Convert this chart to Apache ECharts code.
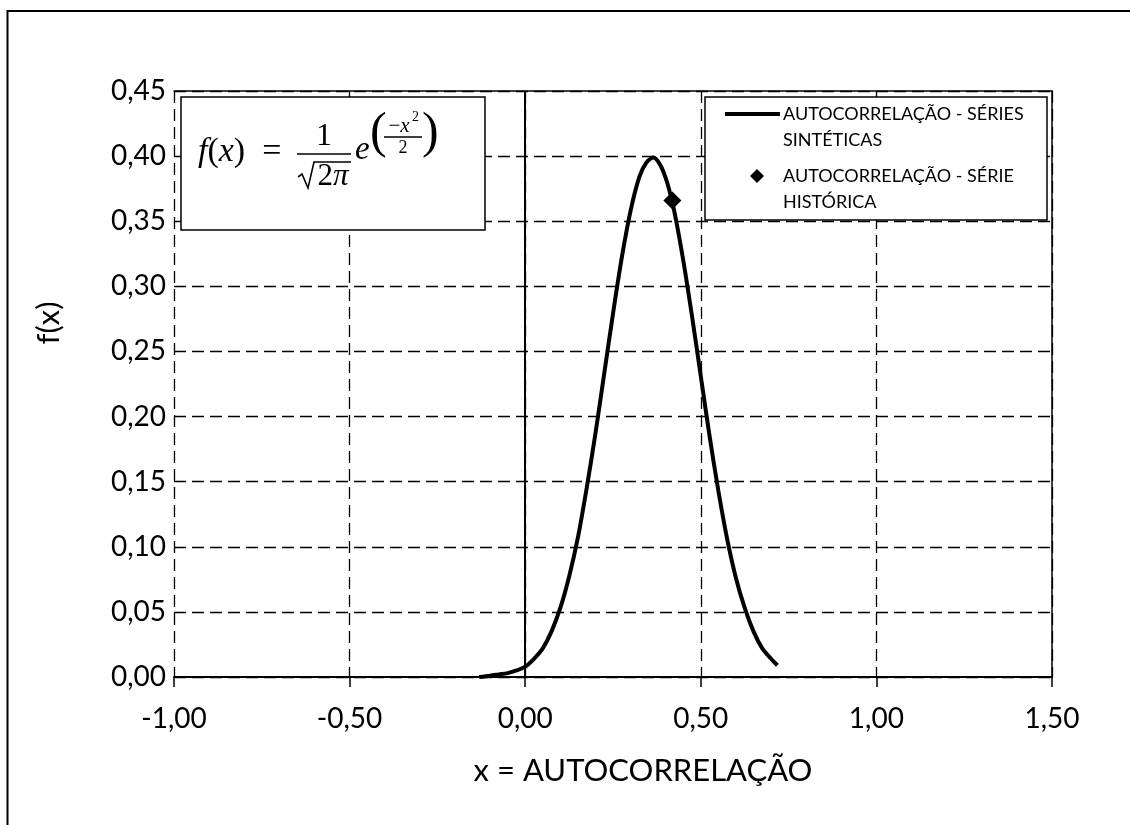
<!DOCTYPE html>
<html>
<head>
<meta charset="utf-8">
<script src="https://cdn.jsdelivr.net/npm/echarts@6/dist/echarts.min.js"></script>
<style>
  html, body { margin: 0; padding: 0; background: #ffffff; }
  #chart { width: 1130px; height: 825px; }
</style>
</head>
<body>
<div id="chart"></div>
<script>
// Axis ranges / ticks
const xTicks = [-1.0, -0.5, 0.0, 0.5, 1.0, 1.5];
const yTicks = [0.0, 0.05, 0.10, 0.15, 0.20, 0.25, 0.30, 0.35, 0.40, 0.45];

// Probability density of the synthetic-series autocorrelation
const synthX = [-0.131, -0.100, -0.075, -0.050, -0.025, 0.000, 0.025, 0.050, 0.075, 0.100, 0.125, 0.150,
                0.175, 0.200, 0.225, 0.250, 0.275, 0.300, 0.325, 0.345, 0.365, 0.385, 0.405, 0.425,
                0.450, 0.475, 0.500, 0.525, 0.550, 0.575, 0.600, 0.625, 0.650, 0.675, 0.700, 0.718];
const synthY = [0.000, 0.001, 0.002, 0.003, 0.005, 0.008, 0.014, 0.022, 0.035, 0.053, 0.077, 0.107,
                0.145, 0.187, 0.233, 0.279, 0.322, 0.358, 0.384, 0.395, 0.399, 0.393, 0.379, 0.357,
                0.320, 0.277, 0.231, 0.185, 0.143, 0.106, 0.076, 0.053, 0.035, 0.022, 0.014, 0.009];

// Historical series autocorrelation
const histX = [0.419];
const histY = [0.366];

const nameSynth = 'AUTOCORRELAÇÃO - SÉRIES SINTÉTICAS';
const nameHist = 'AUTOCORRELAÇÃO - SÉRIE HISTÓRICA';
const legendSynth = 'AUTOCORRELAÇÃO - SÉRIES\nSINTÉTICAS';
const legendHist = 'AUTOCORRELAÇÃO - SÉRIE\nHISTÓRICA';
const xTitle = 'x = AUTOCORRELAÇÃO';
const yTitle = 'f(x)';

const SANS = 'Lato, "Open Sans", sans-serif';
const SERIF = '"Liberation Serif", "DejaVu Serif", serif';
const fmt = v => v.toFixed(2).replace('.', ',');

const chart = echarts.init(document.getElementById('chart'), null, { renderer: 'canvas' });

const dashed = { color: '#000', width: 1.3, type: [12, 6] };
const TOP = 100;

const option = {
  animation: false,
  backgroundColor: '#ffffff',
  grid: { left: 174, right: 78, top: 91, bottom: 148, containLabel: false },
  xAxis: [{
    type: 'value',
    min: xTicks[0], max: xTicks[xTicks.length - 1], interval: 0.5,
    name: xTitle, nameLocation: 'middle', nameGap: 78,
    nameTextStyle: { fontFamily: SANS, fontSize: 31, color: '#000', padding: [0, 0, 0, 60] },
    axisLine: { show: true, onZero: false, lineStyle: { color: '#000', width: 2 } },
    axisTick: { show: true, inside: false, length: 10, lineStyle: { color: '#000', width: 1.5 } },
    axisLabel: { formatter: fmt, fontFamily: SANS, fontSize: 28, color: '#000', margin: 28 },
    splitLine: { show: true, lineStyle: dashed }
  }, {
    type: 'value', position: 'top',
    min: xTicks[0], max: xTicks[xTicks.length - 1], interval: 0.5,
    axisLine: { show: true, onZero: false, lineStyle: { color: '#000', width: 1.5 } },
    axisTick: { show: false }, axisLabel: { show: false }, splitLine: { show: false }
  }],
  yAxis: [{
    type: 'value',
    min: yTicks[0], max: yTicks[yTicks.length - 1], interval: 0.05,
    name: yTitle, nameLocation: 'middle', nameGap: 110, nameRotate: 90,
    nameTextStyle: { fontFamily: SANS, fontSize: 31, color: '#000', padding: [0, 0, 0, 122] },
    axisLine: { show: false },
    axisTick: { show: false },
    axisLabel: { formatter: fmt, fontFamily: SANS, fontSize: 28, color: '#000', margin: 8 },
    splitLine: { show: true, lineStyle: dashed }
  }, {
    type: 'value', position: 'right',
    min: yTicks[0], max: yTicks[yTicks.length - 1], interval: 0.05,
    axisLine: { show: true, onZero: false, lineStyle: { color: '#000', width: 1.5 } },
    axisTick: { show: false }, axisLabel: { show: false }, splitLine: { show: false }
  }],
  series: [{
    name: nameSynth,
    type: 'line',
    smooth: 0.3,
    showSymbol: false,
    symbol: 'none',
    lineStyle: { color: '#000', width: 4 },
    data: synthX.map((x, i) => [x, synthY[i]]),
    z: 5,
    markLine: {
      silent: true, symbol: 'none', label: { show: false },
      lineStyle: { color: '#000', width: 2, type: 'solid' },
      data: [{ xAxis: 0 }]
    }
  }, {
    name: nameHist,
    type: 'scatter',
    symbol: 'diamond',
    symbolSize: 18,
    itemStyle: { color: '#000', opacity: 1 },
    data: histX.map((x, i) => [x, histY[i]]),
    z: 6
  }],
  graphic: [
    // outer chart frame
    { type: 'rect', silent: true, z: 1, shape: { x: 7.5, y: 11, width: 1140, height: 840 },
      style: { fill: 'none', stroke: '#000', lineWidth: 2 } },
    // equation box
    { type: 'rect', z: TOP, shape: { x: 181, y: 97, width: 304, height: 133 },
      style: { fill: '#fff', stroke: '#000', lineWidth: 1.5 } },
    { type: 'text', z: TOP, x: 198, y: 152, style: {
        text: '{i|f}{n|(}{i|x}{n|)  =}', verticalAlign: 'middle', align: 'left',
        rich: { i: { fontFamily: SERIF, fontStyle: 'italic', fontSize: 34, fill: '#000' },
                n: { fontFamily: SERIF, fontSize: 34, fill: '#000' } } } },
    { type: 'text', z: TOP, x: 324, y: 137, style: { text: '1', font: '32px ' + SERIF, fill: '#000',
        align: 'center', verticalAlign: 'middle' } },
    { type: 'line', z: TOP, shape: { x1: 297, y1: 154, x2: 351, y2: 154 }, style: { stroke: '#000', lineWidth: 1.6 } },
    { type: 'polyline', z: TOP, shape: { points: [[298, 177], [302, 174], [308, 188], [314, 162], [351, 162]] },
      style: { stroke: '#000', lineWidth: 1.6, fill: 'none' } },
    { type: 'text', z: TOP, x: 333, y: 177, style: {
        text: '{n|2}{i|π}', align: 'center', verticalAlign: 'middle',
        rich: { i: { fontFamily: SERIF, fontStyle: 'italic', fontSize: 31, fill: '#000' },
                n: { fontFamily: SERIF, fontSize: 31, fill: '#000' } } } },
    { type: 'text', z: TOP, x: 355, y: 150, style: { text: 'e', font: 'italic 33px ' + SERIF, fill: '#000',
        align: 'left', verticalAlign: 'middle' } },
    { type: 'text', z: TOP, x: 370, y: 134, style: { text: '(', font: '50px ' + SERIF, fill: '#000',
        align: 'left', verticalAlign: 'middle' } },
    { type: 'text', z: TOP, x: 422, y: 134, style: { text: ')', font: '50px ' + SERIF, fill: '#000',
        align: 'left', verticalAlign: 'middle' } },
    { type: 'text', z: TOP, x: 399, y: 126, style: {
        text: '{n|−}{i|x}', align: 'center', verticalAlign: 'middle',
        rich: { i: { fontFamily: SERIF, fontStyle: 'italic', fontSize: 21, fill: '#000' },
                n: { fontFamily: SERIF, fontSize: 21, fill: '#000' } } } },
    { type: 'text', z: TOP, x: 412, y: 117, style: { text: '2', font: '14px ' + SERIF, fill: '#000',
        align: 'left', verticalAlign: 'middle' } },
    { type: 'line', z: TOP, shape: { x1: 384, y1: 137, x2: 422, y2: 137 }, style: { stroke: '#000', lineWidth: 1.3 } },
    { type: 'text', z: TOP, x: 403, y: 148, style: { text: '2', font: '18px ' + SERIF, fill: '#000',
        align: 'center', verticalAlign: 'middle' } },
    // legend box
    { type: 'rect', z: TOP, shape: { x: 705, y: 97, width: 342, height: 123 },
      style: { fill: '#fff', stroke: '#000', lineWidth: 1.5 } },
    { type: 'line', z: TOP, shape: { x1: 725, y1: 114, x2: 780, y2: 114 }, style: { stroke: '#000', lineWidth: 4 } },
    { type: 'text', z: TOP, x: 783, y: 101, style: { text: legendSynth, font: '18px ' + SANS, lineHeight: 26,
        fill: '#000', align: 'left', verticalAlign: 'top' } },
    { type: 'polygon', z: TOP, shape: { points: [[757, 169], [764, 176], [757, 183], [750, 176]] }, style: { fill: '#000' } },
    { type: 'text', z: TOP, x: 783, y: 163, style: { text: legendHist, font: '18px ' + SANS, lineHeight: 26,
        fill: '#000', align: 'left', verticalAlign: 'top' } }
  ]
};

chart.setOption(option);
</script>
</body>
</html>
